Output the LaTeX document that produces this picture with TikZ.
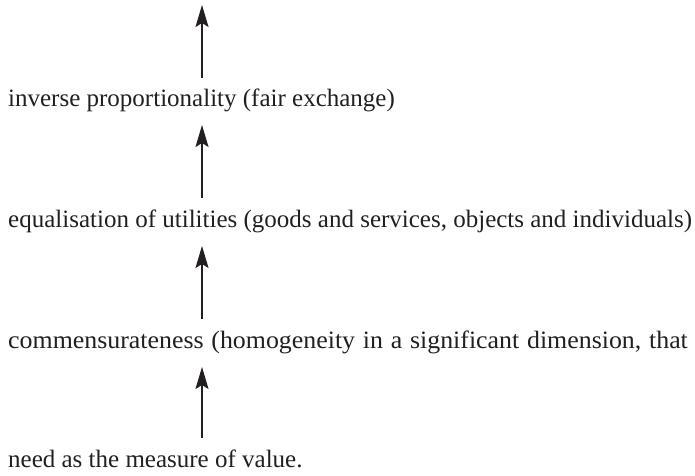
\documentclass[tikz,border=0pt]{standalone}
\usepackage{fontspec}
\setmainfont{Liberation Serif}
\usetikzlibrary{arrows.meta}
\definecolor{ink}{HTML}{231F20}
\begin{document}
\begin{tikzpicture}[x=1pt,y=1pt,
  stage/.style={anchor=base west, inner sep=0pt, text=ink,
                font=\fontsize{25}{30}\selectfont},
  uparrow/.style={draw=ink, line width=1.2pt,
                  -{Stealth[length=22pt,width=13pt,inset=4pt]}}]
\useasboundingbox (0,0) rectangle (695,475);

% the four stages, top to bottom
\node[stage] (t1) at (8,369) {inverse proportionality (fair exchange)};
\node[stage] (t2) at (8,248) {equalisation of utilities (goods and services, objects and individuals)};
\node[stage] (t3) at (8,127) {\scalebox{1.035}[1]{\spaceskip=7.5pt\relax commensurateness (homogeneity in a significant dimension, that}};
\node[stage] (t4) at (8,8)   {need as the measure of value.};

% arrow ends
\coordinate (a0) at (202,470);
\coordinate (b0) at (202,397);
\coordinate (a1) at (202,350);
\coordinate (b1) at (202,277);
\coordinate (a2) at (202,229);
\coordinate (b2) at (202,156);
\coordinate (a3) at (202,108);
\coordinate (b3) at (202,37);

\draw[uparrow] (b0) -- (a0);
\draw[uparrow] (b1) -- (a1);
\draw[uparrow] (b2) -- (a2);
\draw[uparrow] (b3) -- (a3);
\end{tikzpicture}
\end{document}
